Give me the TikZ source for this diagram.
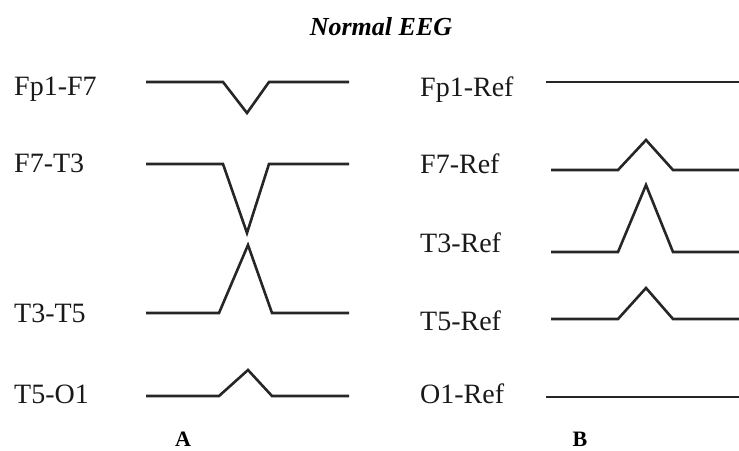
\documentclass[tikz,border=0pt]{standalone}
\usepackage{fontspec}
\setmainfont{Liberation Serif}
\begin{document}
\begin{tikzpicture}[x=1pt, y=-1pt,
    trace/.style={line width=2.6pt, draw=black!85},
    lbl/.style={anchor=base west, inner sep=0pt, font=\fontsize{28}{30}\selectfont, text=black!90},
    panel/.style={anchor=base, inner sep=0pt, font=\fontsize{22}{24}\selectfont\bfseries}]
    \useasboundingbox (0,0) rectangle (739,450);

    % Titel
    \node[anchor=base, inner sep=0pt, font=\fontsize{26}{28}\selectfont\bfseries\itshape] (title) at (381,35) {Normal EEG};

    % Bipolare Ableitung (A)
    \node[lbl] (fpf) at (14,95) {Fp1-F7};
    \node[lbl] (fte) at (14,172) {F7-T3};
    \node[lbl] (ttf) at (14,322) {T3-T5};
    \node[lbl] (tfo) at (14,403) {T5-O1};
    \draw[trace] (146,82) -- (223,82) -- (247,113) -- (269,82) -- (349,82);
    \draw[trace] (146,164) -- (223,164) -- (247,233) -- (269,164) -- (349,164);
    \draw[trace] (146,313) -- (219,313) -- (248,245) -- (272,313) -- (349,313);
    \draw[trace] (146,396) -- (219,396) -- (248,370) -- (272,396) -- (349,396);
    \node[panel] (pa) at (183,446) {A};

    % Referenzableitung (B)
    \node[lbl] (fpr) at (420,96) {Fp1-Ref};
    \node[lbl] (fr) at (420,173) {F7-Ref};
    \node[lbl] (tr) at (420,252) {T3-Ref};
    \node[lbl] (tfr) at (420,330) {T5-Ref};
    \node[lbl] (or) at (420,403) {O1-Ref};
    \draw[trace] (546,82) -- (739,82);
    \draw[trace] (551,170) -- (618,170) -- (646,140) -- (673,170) -- (739,170);
    \draw[trace] (551,252) -- (618,252) -- (646,185) -- (673,252) -- (739,252);
    \draw[trace] (551,319) -- (618,319) -- (646,288) -- (673,319) -- (739,319);
    \draw[trace] (546,397) -- (739,397);
    \node[panel] (pb) at (580,446) {B};
\end{tikzpicture}
\end{document}
